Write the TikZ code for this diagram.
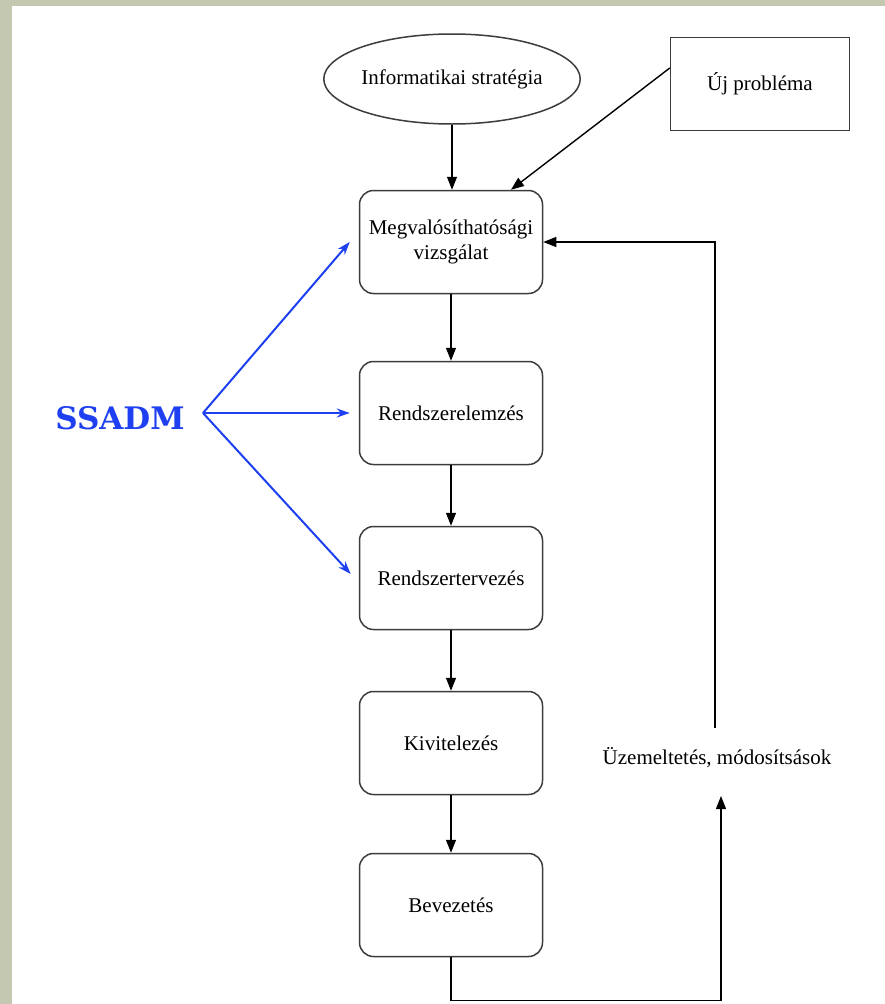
\documentclass[tikz,border=0pt]{standalone}
\usepackage{fontspec}
\setmainfont{Liberation Serif}
\newfontfamily\ssadmfont{DejaVu Serif}
\usetikzlibrary{arrows.meta,shapes.geometric}
\definecolor{frame}{RGB}{197,200,176}
\definecolor{ssblue}{RGB}{30,64,240}
\definecolor{edge}{RGB}{60,60,60}
\tikzset{
  box/.style={draw=edge, line width=1.5pt, rounded corners=14pt, minimum width=183pt, minimum height=103pt, align=center, inner sep=2pt, font=\fontsize{21}{25}\selectfont},
  plainbox/.style={draw=edge, line width=1.5pt, minimum width=179pt, minimum height=93pt, font=\fontsize{21}{25}\selectfont},
  oval/.style={draw=edge, line width=1.5pt, ellipse, minimum width=218pt, minimum height=90pt, inner sep=0pt, font=\fontsize{21}{25}\selectfont},
  arr/.style={draw=black, line width=1.4pt, -{Triangle[length=13pt,width=10pt]}},
  barr/.style={draw=ssblue, line width=2pt, -{Stealth[length=13pt,width=9pt]}},
  lbl/.style={font=\fontsize{21}{25}\selectfont, inner sep=0pt}
}
\begin{document}
\begin{tikzpicture}[x=1pt,y=-1pt]
\useasboundingbox (0,0) rectangle (885,1004);
\fill[frame] (0,0) rectangle (885,1004);
\fill[white] (12,6) rectangle (885,1004);

\node[oval] (strat) at (452,79) {Informatikai stratégia};
\node[plainbox] (uj) at (760,84) {Új probléma};
\node[box] (megv) at (451,242) {Megvalósíthatósági\\vizsgálat};
\node[box] (relem) at (451,413) {Rendszerelemzés};
\node[box] (rterv) at (451,578) {Rendszertervezés};
\node[box] (kiv) at (451,743) {Kivitelezés};
\node[box] (bev) at (451,905) {Bevezetés};
\node[lbl] (uzem) at (717,758) {Üzemeltetés, módosítsások};
\node[text=ssblue, font=\ssadmfont\bfseries\fontsize{31}{36}\selectfont, inner sep=0pt] (ssadm) at (120,418) {SSADM};

\coordinate (s0) at (203,413);
\coordinate (ut) at (715,728);
\coordinate (ub) at (721,796);

\draw[arr] (strat.south) -- (megv.north -| strat.south);
\draw[arr] ([yshift=16pt]uj.west) -- ([xshift=60pt]megv.north);
\draw[arr] (megv) -- (relem);
\draw[arr] (relem) -- (rterv);
\draw[arr] (rterv) -- (kiv);
\draw[arr] (kiv) -- (bev);
\draw[arr] (bev.south) -- ++(0,43) -| (ub);
\draw[arr] (ut) |- (megv.east);

\draw[barr] (s0) -- ([xshift=-9pt]megv.west);
\draw[barr] (s0) -- ([xshift=-9pt]relem.west);
\draw[barr] (s0) -- ([xshift=-8pt,yshift=4pt]rterv.west);
\end{tikzpicture}
\end{document}
